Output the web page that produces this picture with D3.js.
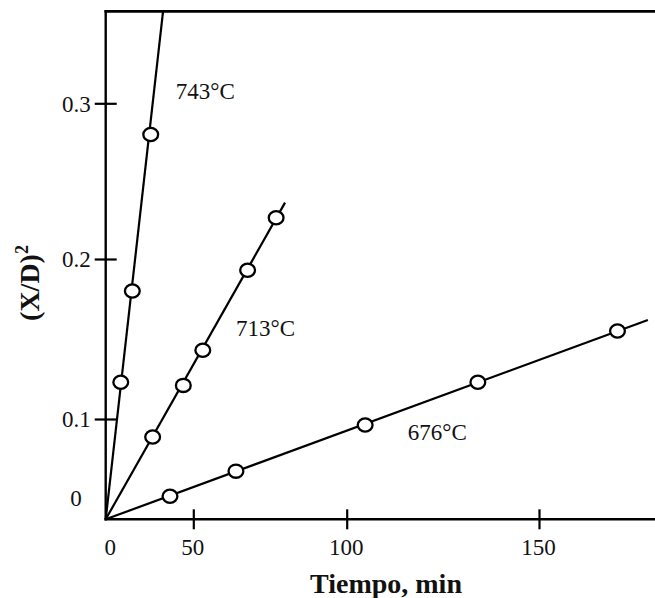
<!DOCTYPE html>
<html>
<head>
<meta charset="utf-8">
<script src="https://cdn.jsdelivr.net/npm/d3@7"></script>
<style>
  html, body { margin: 0; padding: 0; background: #fff; }
  svg { display: block; }
  text { font-family: "Liberation Serif", "Times New Roman", serif; fill: #111; }
</style>
</head>
<body>
<svg id="chart" width="655" height="598"></svg>
<script>
// ---- data ----
const series = ["743°C", "713°C", "676°C"];
// measured points: time (min) and (X/D)^2
const time743 = [8.6, 15.2, 25.7];
const xd743   = [0.123, 0.180, 0.280];
const time713 = [26.8, 44.3, 53.1, 67.7, 77.0];
const xd713   = [0.082, 0.121, 0.143, 0.193, 0.2265];
const time676 = [36.7, 63.9, 104.8, 134.1, 170.4];
const xd676   = [0.023, 0.048, 0.094, 0.123, 0.155];
// fitted straight lines through the origin: [start, end]
const lineTime743 = [0, 32.7];  const lineXd743 = [0, 0.3586];
const lineTime713 = [0, 79.9];  const lineXd713 = [0, 0.2362];
const lineTime676 = [0, 178.3]; const lineXd676 = [0, 0.1619];
// label anchors (data coordinates)
const labelTime = [40.0, 63.9, 115.9];
const labelXd   = [0.3026, 0.152, 0.079];
// ticks
const xTicks = [0, 50, 100, 150];
const xTickLabels = ["0", "50", "100", "150"];
const yTicks = [0.1, 0.2, 0.3];
const yTickLabels = ["0.1", "0.2", "0.3"];
const xDomain = [0, 50, 100, 150, 180];
const yDomain = [0, 0.1, 0.2, 0.3, 0.359];

// ---- scales (the original drawing has unevenly spaced ticks) ----
const x = d3.scaleLinear().domain(xDomain).range([105.7, 193.3, 346.7, 539, 654.4]);
const y = d3.scaleLinear().domain(yDomain).range([519.3, 419, 259, 103.3, 11.3]);

const svg = d3.select("#chart");

// frame lines: left axis, bottom axis, top border
const x0 = x(0), xEnd = 655, y0 = y(0), yTop = y(yDomain[yDomain.length - 1]);
svg.append("line").attr("x1", x0).attr("x2", x0).attr("y1", yTop - 1.3).attr("y2", y0 + 1.2)
  .attr("stroke", "#000").attr("stroke-width", 2.4);
svg.append("line").attr("x1", x0 - 1.2).attr("x2", xEnd).attr("y1", y0).attr("y2", y0)
  .attr("stroke", "#000").attr("stroke-width", 2.4);
svg.append("line").attr("x1", x0 - 1.2).attr("x2", xEnd).attr("y1", yTop).attr("y2", yTop)
  .attr("stroke", "#000").attr("stroke-width", 2.8);

// x axis
const xAxis = svg.append("g").attr("transform", `translate(0,${y0})`)
  .call(d3.axisBottom(x).tickValues(xTicks).tickFormat((d, i) => xTickLabels[i]).tickSize(10));
xAxis.select(".domain").remove();
xAxis.selectAll(".tick line").attr("y1", -10).attr("stroke", "#000").attr("stroke-width", 2.2)
  .filter(d => d === 0).remove();
xAxis.selectAll(".tick text").attr("y", 36).attr("dy", null)
  .attr("font-size", 23).attr("font-family", "Liberation Serif").attr("fill", "#111")
  .attr("dx", d => d === 0 ? 4 : -1);

// y axis
const yAxis = svg.append("g").attr("transform", `translate(${x0},0)`)
  .call(d3.axisLeft(y).tickValues(yTicks).tickFormat((d, i) => yTickLabels[i]).tickSize(11).tickPadding(4));
yAxis.select(".domain").remove();
yAxis.selectAll(".tick line").attr("x1", 11).attr("stroke", "#000").attr("stroke-width", 2.2);
yAxis.selectAll(".tick text").attr("font-size", 23).attr("font-family", "Liberation Serif")
  .attr("fill", "#111").attr("dy", "0.34em");
// the zero label on the y axis sits above the corner in the original
svg.append("text").attr("x", x0 - 24).attr("y", y(0) - 21).attr("dy", "0.34em")
  .attr("text-anchor", "end").attr("font-size", 23).text("0");

// lines and points
const lineGen = d3.line().x(d => x(d[0])).y(d => y(d[1]));
const lines = [
  [lineTime743, lineXd743], [lineTime713, lineXd713], [lineTime676, lineXd676]
];
const points = [
  [time743, xd743], [time713, xd713], [time676, xd676]
];
lines.forEach(([t, v]) => {
  svg.append("path").datum(t.map((tt, i) => [tt, v[i]]))
    .attr("d", lineGen).attr("fill", "none").attr("stroke", "#000").attr("stroke-width", 2.2);
});
points.forEach(([t, v]) => {
  svg.append("g").selectAll("ellipse").data(t.map((tt, i) => [tt, v[i]])).join("ellipse")
    .attr("cx", d => x(d[0])).attr("cy", d => y(d[1])).attr("rx", 7.4).attr("ry", 6.6)
    .attr("fill", "#fff").attr("stroke", "#000").attr("stroke-width", 2.3);
});

// series labels
svg.append("g").selectAll("text").data(series).join("text")
  .attr("x", (d, i) => x(labelTime[i])).attr("y", (d, i) => y(labelXd[i]))
  .attr("font-size", 23).text(d => d);

// axis titles
svg.append("text").attr("x", 386).attr("y", 593).attr("text-anchor", "middle")
  .attr("font-size", 28).attr("font-weight", "bold").text("Tiempo, min");
const yt = svg.append("text").attr("transform", "translate(39,283) rotate(-90)")
  .attr("text-anchor", "middle").attr("font-size", 28).attr("font-weight", "bold");
yt.append("tspan").text("(X/D)");
yt.append("tspan").attr("font-size", 18).attr("dy", -11).text("2");
</script>
</body>
</html>
